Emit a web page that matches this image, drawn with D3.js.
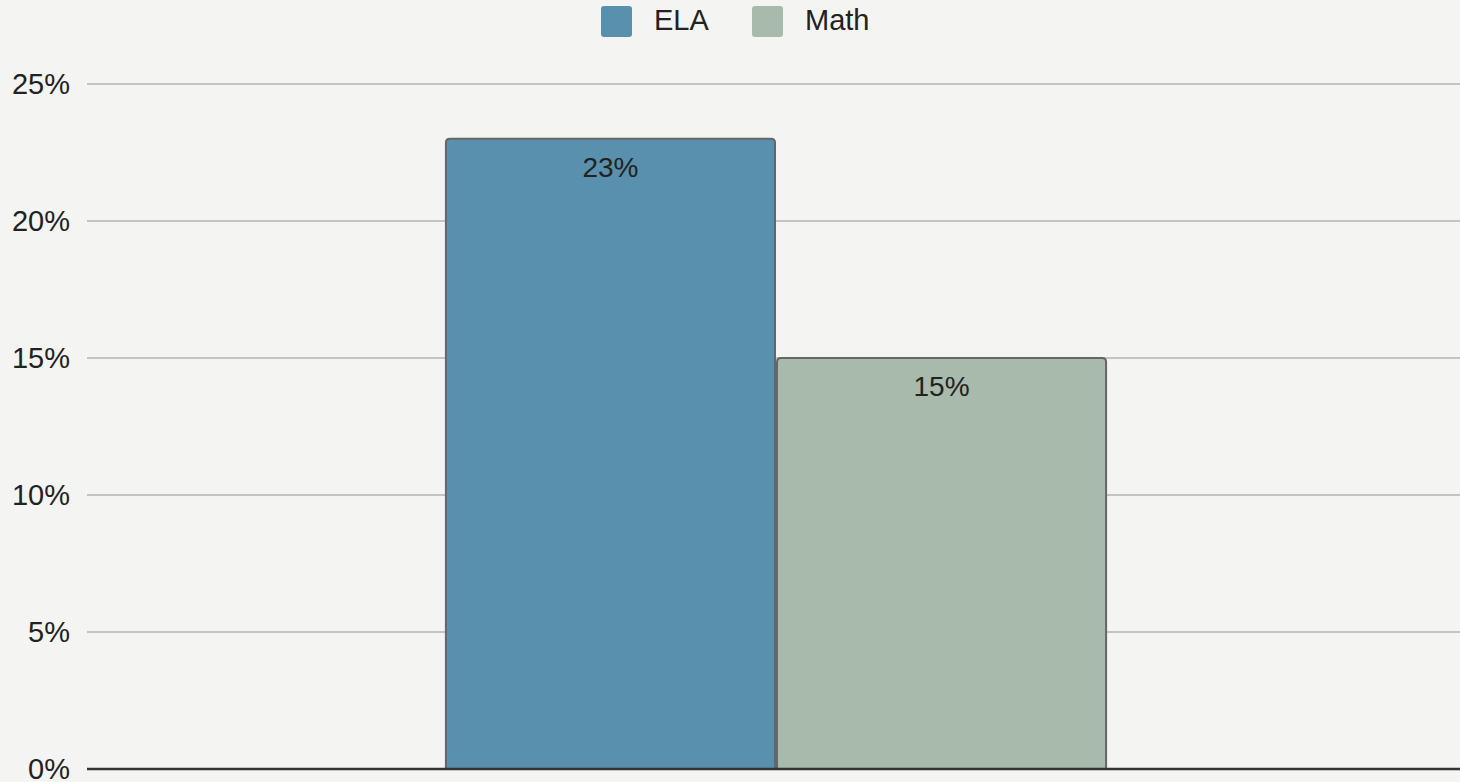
<!DOCTYPE html>
<html><head><meta charset="utf-8">
<script src="https://cdn.jsdelivr.net/npm/d3@7"></script>
<style>
html,body{margin:0;padding:0;background:#f4f4f3;}
svg{display:block;font-family:"Liberation Sans",Arial,sans-serif;}
</style></head>
<body><svg id="c" width="1460" height="782"></svg>
<script>
const categories = [""];
const seriesNames = ["ELA", "Math"];
const seriesValues = [23, 15];
const seriesColors = ["#5890ae", "#a7baab"];
const yTicks = [0, 5, 10, 15, 20, 25];

const W = 1460, H = 782;
const m = {left: 87, right: -5, top: 84, bottom: 13};
const svg = d3.select("#c");
svg.append("rect").attr("width", W).attr("height", H).attr("fill", "#f4f4f3");

const x0 = d3.scaleBand().domain(categories).range([m.left, W - m.right]).paddingInner(0).paddingOuter(0);
const x1 = d3.scaleBand().domain(seriesNames).range([0, x0.bandwidth()]).paddingInner(0.006).paddingOuter(1.084);
const y = d3.scaleLinear().domain([0, 25]).range([H - m.bottom, m.top]);

// grid
const g = svg.append("g");
g.selectAll("line.grid").data(yTicks.filter(t => t > 0)).join("line")
  .attr("x1", m.left).attr("x2", W)
  .attr("y1", d => y(d)).attr("y2", d => y(d))
  .attr("stroke", "#c4c4c4").attr("stroke-width", 2);

// y axis labels
const yAxis = d3.axisLeft(y).tickValues(yTicks).tickFormat(d => d + "%").tickSize(0).tickPadding(17);
const ya = svg.append("g").attr("transform", `translate(${m.left},0)`).call(yAxis);
ya.select(".domain").remove();
ya.selectAll("text").attr("font-size", 29).attr("fill", "#222").attr("font-family", "Liberation Sans, Arial, sans-serif");

// bars
const data = seriesNames.map((s, i) => ({cat: categories[0], s, v: seriesValues[i], c: seriesColors[i]}));
const bars = svg.append("g");
bars.selectAll("path").data(data).join("path")
  .attr("d", d => {
    const bx = x0(d.cat) + x1(d.s), bw = x1.bandwidth();
    const top = y(d.v), bot = y(0), r = 4;
    return `M${bx},${bot} L${bx},${top + r} Q${bx},${top} ${bx + r},${top} L${bx + bw - r},${top} Q${bx + bw},${top} ${bx + bw},${top + r} L${bx + bw},${bot}`;
  })
  .attr("fill", d => d.c).attr("stroke", "#666").attr("stroke-width", 2);

bars.selectAll("text").data(data).join("text")
  .attr("x", d => x0(d.cat) + x1(d.s) + x1.bandwidth() / 2)
  .attr("y", d => y(d.v) + 38)
  .attr("text-anchor", "middle").attr("font-size", 28).attr("fill", "#222")
  .text(d => d.v + "%");

// baseline
svg.append("line").attr("x1", m.left).attr("x2", W).attr("y1", y(0)).attr("y2", y(0))
  .attr("stroke", "#333").attr("stroke-width", 2.5);

// legend
const leg = svg.append("g");
const legX = [601, 752];
seriesNames.forEach((s, i) => {
  leg.append("rect").attr("x", legX[i]).attr("y", 6).attr("width", 31).attr("height", 31).attr("rx", 3)
    .attr("fill", seriesColors[i]);
  leg.append("text").attr("x", legX[i] + 53).attr("y", 30).attr("font-size", 29).attr("fill", "#222").text(s);
});
</script></body></html>
